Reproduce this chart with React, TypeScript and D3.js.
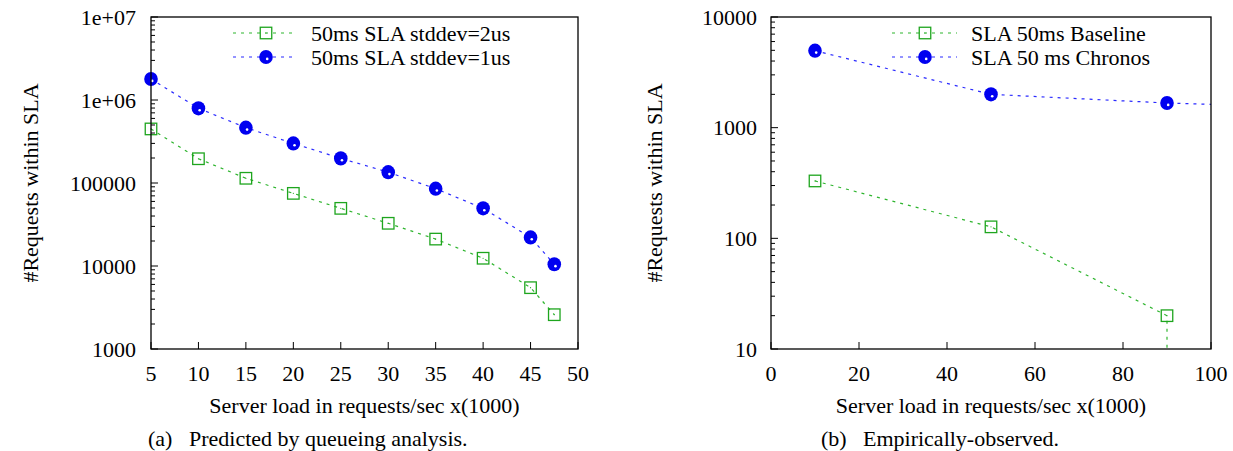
import React from "react";
import * as d3 from "d3";

// ---- Data ----
const loadA = [5, 10, 15, 20, 25, 30, 35, 40, 45, 47.5];
const stddev2 = [448000, 196000, 114000, 75000, 49500, 32700, 21100, 12400, 5480, 2590];
const stddev1 = [1790000, 794000, 464000, 300000, 198000, 135000, 85500, 49500, 22100, 10500];

const loadB = [10, 50, 90, 90];
const baseline = [330, 127, 20, 1];
const loadBChronos = [10, 50, 90, 130];
const chronos = [4960, 2000, 1670, 1500];

const xTicksA = [5, 10, 15, 20, 25, 30, 35, 40, 45, 50];
const yTicksA = [1000, 10000, 100000, 1000000, 10000000];
const yTickLabelsA = ["1000", "10000", "100000", "1e+06", "1e+07"];
const xTicksB = [0, 20, 40, 60, 80, 100];
const yTicksB = [10, 100, 1000, 10000];
const yTickLabelsB = ["10", "100", "1000", "10000"];

const legendA = ["50ms SLA stddev=2us", "50ms SLA stddev=1us"];
const legendB = ["SLA 50ms Baseline", "SLA 50 ms Chronos"];

const GREEN = "#1ea51e";
const GREEN_LINE = "#2fb52f";
const BLUE = "#0000f0";
const BLUE_LINE = "#2a2aff";
const FONT = "'Liberation Serif', 'Times New Roman', serif";
const FS = 22;

function minorTicks(domain: [number, number]) {
  const out: number[] = [];
  const lo = Math.round(Math.log10(domain[0]));
  const hi = Math.round(Math.log10(domain[1]));
  for (let e = lo; e < hi; e++) {
    for (let k = 2; k <= 9; k++) out.push(k * Math.pow(10, e));
  }
  return out;
}

function Square({ x, y }: { x: number; y: number }) {
  return (
    <g>
      <rect x={x - 5.75} y={y - 5.75} width={11.5} height={11.5} fill="none" stroke={GREEN} strokeWidth={1.3} />
      <circle cx={x} cy={y} r={0.6} fill={GREEN} />
    </g>
  );
}

function Dot({ x, y }: { x: number; y: number }) {
  return (
    <g>
      <ellipse cx={x} cy={y} rx={6.8} ry={7.1} fill={BLUE} />
      <circle cx={x + 1.2} cy={y + 1.9} r={1.3} fill="#ffffff" />
    </g>
  );
}

type PanelProps = {
  id: string;
  left: number;
  right: number;
  top: number;
  bottom: number;
  xDomain: [number, number];
  yDomain: [number, number];
  xTicks: number[];
  yTicks: number[];
  yTickLabels: string[];
  gx: number[];
  gy: number[];
  bx: number[];
  by: number[];
  legend: string[];
  legLine: [number, number];
  legMarker: number;
  legText: number;
  yTitleX: number;
  labelRight: number;
  capTag: string;
  capText: string;
  capX: number;
  capTextX: number;
};

function Panel(p: PanelProps) {
  const x = d3.scaleLinear().domain(p.xDomain).range([p.left, p.right]);
  const y = d3.scaleLog().domain(p.yDomain).range([p.bottom, p.top]);
  const line = d3
    .line<[number, number]>()
    .x((d) => x(d[0]))
    .y((d) => y(d[1]));
  const gPts: [number, number][] = p.gx.map((v, i) => [v, p.gy[i]]);
  const bPts: [number, number][] = p.bx.map((v, i) => [v, p.by[i]]);
  const inside = (d: [number, number]) =>
    d[0] >= p.xDomain[0] && d[0] <= p.xDomain[1] && d[1] >= p.yDomain[0] && d[1] <= p.yDomain[1];
  const clipId = "clip-" + p.id;
  const midX = (p.left + p.right) / 2;
  const midY = (p.top + p.bottom) / 2;
  const legY = [33, 57];
  return (
    <g fontFamily={FONT} fontSize={FS} fill="#000">
      <defs>
        <clipPath id={clipId}>
          <rect x={p.left} y={p.top} width={p.right - p.left} height={p.bottom - p.top} />
        </clipPath>
      </defs>
      {/* ticks */}
      {p.xTicks.map((t) => (
        <g key={"xt" + t}>
          <line x1={x(t)} x2={x(t)} y1={p.bottom} y2={p.bottom - 7} stroke="#000" strokeWidth={1} />
          <text x={x(t)} y={373} dy="0.35em" textAnchor="middle">
            {t}
          </text>
        </g>
      ))}
      {p.yTicks.map((t, i) => (
        <g key={"yt" + t}>
          <line x1={p.left} x2={p.left + 7} y1={y(t)} y2={y(t)} stroke="#000" strokeWidth={1} />
          <text x={p.labelRight} y={y(t)} dy="0.35em" textAnchor="end">
            {p.yTickLabels[i]}
          </text>
        </g>
      ))}
      {minorTicks(p.yDomain).map((t) => (
        <line key={"ym" + t} x1={p.left} x2={p.left + 4} y1={y(t)} y2={y(t)} stroke="#000" strokeWidth={1} />
      ))}
      {/* series */}
      <g clipPath={`url(#${clipId})`}>
        <path d={line(gPts) || ""} fill="none" stroke={GREEN_LINE} strokeWidth={1.2} strokeDasharray="3,5" />
        <path d={line(bPts) || ""} fill="none" stroke={BLUE_LINE} strokeWidth={1.2} strokeDasharray="3,5" />
      </g>
      {gPts.filter(inside).map((d, i) => (
        <Square key={"g" + i} x={x(d[0])} y={y(d[1])} />
      ))}
      {bPts.filter(inside).map((d, i) => (
        <Dot key={"b" + i} x={x(d[0])} y={y(d[1])} />
      ))}
      {/* frame */}
      <rect x={p.left} y={p.top} width={p.right - p.left} height={p.bottom - p.top} fill="none" stroke="#000" strokeWidth={1.3} />
      {/* legend */}
      <line x1={p.legLine[0]} x2={p.legLine[1]} y1={legY[0]} y2={legY[0]} stroke={GREEN_LINE} strokeWidth={1.2} strokeDasharray="3,5" />
      <Square x={p.legMarker} y={legY[0]} />
      <text x={p.legText} y={legY[0]} dy="0.35em">
        {p.legend[0]}
      </text>
      <line x1={p.legLine[0]} x2={p.legLine[1]} y1={legY[1]} y2={legY[1]} stroke={BLUE_LINE} strokeWidth={1.2} strokeDasharray="3,5" />
      <Dot x={p.legMarker} y={legY[1]} />
      <text x={p.legText} y={legY[1]} dy="0.35em">
        {p.legend[1]}
      </text>
      {/* titles */}
      <text x={midX} y={405} dy="0.35em" textAnchor="middle">
        Server load in requests/sec x(1000)
      </text>
      <text transform={`translate(${p.yTitleX},${midY}) rotate(-90)`} dy="0.35em" textAnchor="middle">
        #Requests within SLA
      </text>
      <text x={p.capX} y={438} dy="0.35em">
        {p.capTag}
      </text>
      <text x={p.capTextX} y={438} dy="0.35em">
        {p.capText}
      </text>
    </g>
  );
}

export default function App() {
  return (
    <svg
      width={1233}
      height={451}
      style={{ position: "absolute", left: 0, top: 0, background: "#fff" }}
    >
      <rect width={1233} height={451} fill="#fff" />
      <Panel
        id="a"
        left={151}
        right={578}
        top={17}
        bottom={349}
        xDomain={[5, 50]}
        yDomain={[1000, 10000000]}
        xTicks={xTicksA}
        yTicks={yTicksA}
        yTickLabels={yTickLabelsA}
        gx={loadA}
        gy={stddev2}
        bx={loadA}
        by={stddev1}
        legend={legendA}
        legLine={[233, 297]}
        legMarker={266}
        legText={311}
        yTitleX={30}
        labelRight={136}
        capTag="(a)"
        capText="Predicted by queueing analysis."
        capX={148}
        capTextX={189}
      />
      <Panel
        id="b"
        left={771}
        right={1211}
        top={17}
        bottom={349}
        xDomain={[0, 100]}
        yDomain={[10, 10000]}
        xTicks={xTicksB}
        yTicks={yTicksB}
        yTickLabels={yTickLabelsB}
        gx={loadB}
        gy={baseline}
        bx={loadBChronos}
        by={chronos}
        legend={legendB}
        legLine={[892, 957]}
        legMarker={925}
        legText={971}
        yTitleX={654}
        labelRight={757}
        capTag="(b)"
        capText="Empirically-observed."
        capX={821}
        capTextX={863}
      />
    </svg>
  );
}
